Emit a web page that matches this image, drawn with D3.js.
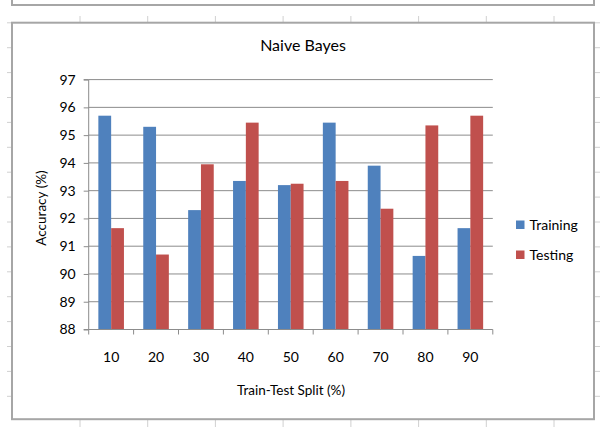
<!DOCTYPE html>
<html>
<head>
<meta charset="utf-8">
<script src="https://cdn.jsdelivr.net/npm/d3@7"></script>
<style>
  html, body { margin: 0; padding: 0; background: #ffffff; }
  svg { display: block; font-family: Lato, "Open Sans", sans-serif; }
</style>
</head>
<body>
<svg id="chart" width="615" height="427"></svg>
<script>
// ---- data ----
const categories = ["10", "20", "30", "40", "50", "60", "70", "80", "90"];
const training = [95.7, 95.3, 92.3, 93.35, 93.2, 95.45, 93.9, 90.65, 91.65];
const testing  = [91.65, 90.7, 93.95, 95.45, 93.25, 93.35, 92.35, 95.35, 95.7];
const seriesNames = ["Training", "Testing"];
const seriesColors = ["#4F81BD", "#C0504D"];
const yTicks = [88, 89, 90, 91, 92, 93, 94, 95, 96, 97];
const titleText = "Naive Bayes";
const xTitle = "Train-Test Split (%)";
const yTitle = "Accuracy (%)";

const svg = d3.select("#chart");

// ---- spreadsheet background decoration ----
const frameColor = "#a6a6a6";
const tickColor = "#d0d0d0";
svg.append("path")
  .attr("d", "M12,0 L12,5 L594,5 L594,0")
  .attr("fill", "none").attr("stroke", frameColor).attr("stroke-width", 2);
const colX = [80, 147.7, 215.4, 283.1, 350.9, 418.6, 486.3, 554];
colX.forEach(x => {
  svg.append("line").attr("x1", x).attr("x2", x).attr("y1", 16).attr("y2", 22)
    .attr("stroke", tickColor).attr("stroke-width", 1);
  svg.append("line").attr("x1", x).attr("x2", x).attr("y1", 420).attr("y2", 427)
    .attr("stroke", tickColor).attr("stroke-width", 1);
});
for (let k = 0; k < 17; k++) {
  const yy = 22.8 + 24.9 * k;
  if (yy > 421) break;
  svg.append("line").attr("x1", 7).attr("x2", 12).attr("y1", yy).attr("y2", yy)
    .attr("stroke", tickColor).attr("stroke-width", 1);
  svg.append("line").attr("x1", 594).attr("x2", 600).attr("y1", yy).attr("y2", yy)
    .attr("stroke", tickColor).attr("stroke-width", 1);
}
svg.append("rect")
  .attr("x", 12).attr("y", 22.7).attr("width", 582).attr("height", 396.5)
  .attr("fill", "#ffffff").attr("stroke", frameColor).attr("stroke-width", 2);

// ---- plot area ----
const plot = { left: 88.7, right: 492.8, top: 79.6, bottom: 329.5 };

const x0 = d3.scaleBand().domain(categories)
  .range([plot.left, plot.right]).paddingInner(0.43).paddingOuter(0.215);
const x1 = d3.scaleBand().domain(seriesNames).range([0, x0.bandwidth()]).padding(0);
const y = d3.scaleLinear().domain([88, 97]).range([plot.bottom, plot.top]);

// gridlines
svg.append("g").selectAll("line").data(yTicks.slice(1)).join("line")
  .attr("x1", plot.left).attr("x2", plot.right)
  .attr("y1", d => y(d)).attr("y2", d => y(d))
  .attr("stroke", "#8c8c8c").attr("stroke-width", 1);

// bars
const rows = categories.map((c, i) => ({ cat: c, vals: [training[i], testing[i]] }));
const groups = svg.append("g").selectAll("g").data(rows).join("g")
  .attr("transform", d => `translate(${x0(d.cat)},0)`);
groups.selectAll("rect")
  .data(d => d.vals.map((v, j) => ({ name: seriesNames[j], v, j })))
  .join("rect")
  .attr("x", d => x1(d.name))
  .attr("width", x1.bandwidth())
  .attr("y", d => y(d.v))
  .attr("height", d => y(88) - y(d.v))
  .attr("fill", d => seriesColors[d.j]);

// y axis
const yAxis = d3.axisLeft(y).tickValues(yTicks).tickSize(5).tickPadding(8)
  .tickFormat(d3.format("d"));
const gy = svg.append("g").attr("transform", `translate(${plot.left},0)`).call(yAxis);
gy.select(".domain").attr("stroke", "#8c8c8c").attr("d", `M-5,${plot.top}H0V${plot.bottom}H-5`);
gy.selectAll(".tick line").attr("stroke", "#8c8c8c");
gy.selectAll(".tick text").attr("font-size", 14).attr("fill", "#000")
  .attr("font-family", "Lato, sans-serif");

// x axis with boundary ticks
const step = (plot.right - plot.left) / categories.length;
const gx = svg.append("g");
gx.append("line").attr("x1", plot.left).attr("x2", plot.right)
  .attr("y1", plot.bottom).attr("y2", plot.bottom).attr("stroke", "#8c8c8c");
gx.selectAll("line.b").data(d3.range(categories.length + 1)).join("line")
  .attr("class", "b")
  .attr("x1", i => plot.left + i * step).attr("x2", i => plot.left + i * step)
  .attr("y1", plot.bottom).attr("y2", plot.bottom + 5).attr("stroke", "#8c8c8c");
gx.selectAll("text").data(categories).join("text")
  .attr("x", d => x0(d) + x0.bandwidth() / 2)
  .attr("y", 362)
  .attr("text-anchor", "middle")
  .attr("font-size", 14).attr("fill", "#000")
  .text(d => d);

// titles
svg.append("text").attr("x", 303).attr("y", 51).attr("text-anchor", "middle")
  .attr("font-size", 16).attr("fill", "#000").text(titleText);
svg.append("text").attr("x", 291).attr("y", 395).attr("text-anchor", "middle")
  .attr("font-size", 13.5).attr("fill", "#000").text(xTitle);
svg.append("text")
  .attr("transform", "translate(46,208) rotate(-90)")
  .attr("text-anchor", "middle")
  .attr("font-size", 13.5).attr("fill", "#000").text(yTitle);

// legend
const legend = svg.append("g").selectAll("g").data(seriesNames).join("g")
  .attr("transform", (d, i) => `translate(516,${220.5 + i * 30})`);
legend.append("rect").attr("width", 8.5).attr("height", 8.5)
  .attr("fill", (d, i) => seriesColors[i]);
legend.append("text").attr("x", 13.5).attr("y", 9.5)
  .attr("font-size", 14).attr("fill", "#000").text(d => d);
</script>
</body>
</html>
